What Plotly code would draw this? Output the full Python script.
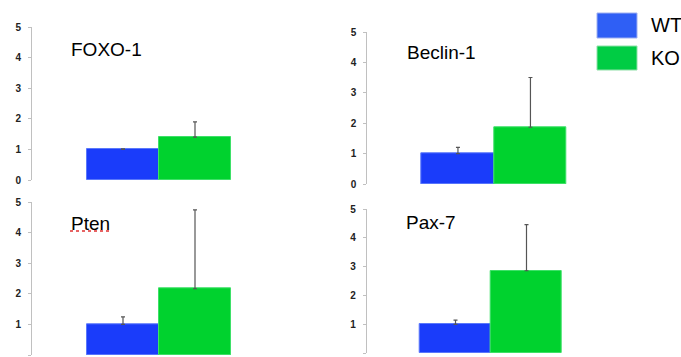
import plotly.graph_objects as go

W, H = 681, 357

genes = ["FOXO-1", "Beclin-1", "Pten", "Pax-7"]
groups = ["WT", "KO"]
wt_mean = [1.0, 1.0, 1.0, 1.0]
wt_err = [0.02, 0.21, 0.25, 0.15]
ko_mean = [1.40, 1.87, 2.17, 2.86]
ko_err = [0.50, 1.64, 2.58, 1.60]
y_ticks = [0, 1, 2, 3, 4, 5]

bar_colors = {"WT": "#1a3cfa", "KO": "#00d22e"}
line_colors = {"WT": "#5a78fb", "KO": "#3ee068"}
legend_colors = {"WT": "#2f5ff5", "KO": "#00cc44"}

# panel geometry in pixels: axis x, bar left, unit width, x end, y0 pixel, y5 pixel
panels = [
    dict(ax=32, bl=87, bw=72, xe=330, y0=180, y5=27, tx=69, ty=50),
    dict(ax=367.3, bl=421.7, bw=72.5, xe=590, y0=184, y5=32.3, tx=405, ty=52),
    dict(ax=32, bl=87, bw=72, xe=330, y0=355, y5=202.3, tx=69, ty=223),
    dict(ax=366.7, bl=420, bw=71, xe=590, y0=353.3, y5=209, tx=404, ty=222),
]

fig = go.Figure()
layout = dict()
font_family = "Liberation Sans, Arial, sans-serif"

for i, p in enumerate(panels):
    n = "" if i == 0 else str(i + 1)
    xa, ya = "x" + n, "y" + n
    means = [wt_mean[i], ko_mean[i]]
    errs = [wt_err[i], ko_err[i]]
    for j, g in enumerate(groups):
        fig.add_trace(go.Bar(
            x=[g], y=[means[j]], name=g, xaxis=xa, yaxis=ya,
            marker=dict(color=bar_colors[g], line=dict(color=line_colors[g], width=1)),
            error_y=dict(type="data", array=[errs[j]], arrayminus=[0], symmetric=False,
                         color="#555555", thickness=1.2, width=2),
            width=1, showlegend=False,
        ))
    r0 = -0.5 - (p["bl"] - p["ax"]) / p["bw"]
    r1 = 1.5 + (p["xe"] - (p["bl"] + 2 * p["bw"])) / p["bw"]
    layout["xaxis" + n] = dict(
        domain=[p["ax"] / W, p["xe"] / W], range=[r0, r1], anchor=ya,
        categoryorder="array", categoryarray=groups, automargin=False,
        showticklabels=False, showgrid=False, zeroline=False, showline=False, ticks="",
    )
    layout["yaxis" + n] = dict(
        domain=[(H - p["y0"]) / H, (H - p["y5"]) / H], range=[0, 5], anchor=xa,
        tickvals=y_ticks, ticktext=[str(t) for t in y_ticks], automargin=False,
        showgrid=False, zeroline=False, showline=True, linecolor="#c0c0c0", linewidth=1,
        ticks="outside", ticklen=3, tickcolor="#c0c0c0", ticklabelstandoff=5,
        tickfont=dict(family=font_family, size=10, color="#222222", weight="bold"),
    )
    fig.add_annotation(
        x=p["tx"] / W, y=(H - p["ty"]) / H, xref="paper", yref="paper",
        text=genes[i], showarrow=False, xanchor="left", yanchor="middle",
        font=dict(family=font_family, size=19, color="#000000"),
    )

# red spell-check underline under "Pten"
fig.add_shape(type="line", xref="paper", yref="paper",
              x0=70 / W, x1=110 / W, y0=(H - 231) / H, y1=(H - 231) / H,
              line=dict(color="#e03030", width=1.5, dash="dot"))

# legend boxes
leg = [(13, 38), (46, 70)]
for k, g in enumerate(groups):
    t, b = leg[k]
    fig.add_shape(type="rect", xref="paper", yref="paper",
                  x0=597 / W, x1=637 / W, y0=(H - b) / H, y1=(H - t) / H,
                  fillcolor=legend_colors[g], line=dict(color="#9fb0f0" if g == "WT" else "#8fe0a8", width=1))
    fig.add_annotation(x=649 / W, y=(H - (t + b) / 2) / H, xref="paper", yref="paper",
                       text=g, showarrow=False, xanchor="left", yanchor="middle",
                       font=dict(family=font_family, size=20, color="#000000"))

fig.update_layout(
    width=W, height=H, margin=dict(l=0, r=0, t=0, b=0),
    paper_bgcolor="white", plot_bgcolor="white",
    barmode="overlay", bargap=0, showlegend=False, hovermode=False,
    **layout,
)

fig.write_html("out.html", config={"displayModeBar": False},
               post_script="document.body.style.margin='0';document.body.style.overflow='hidden';")
